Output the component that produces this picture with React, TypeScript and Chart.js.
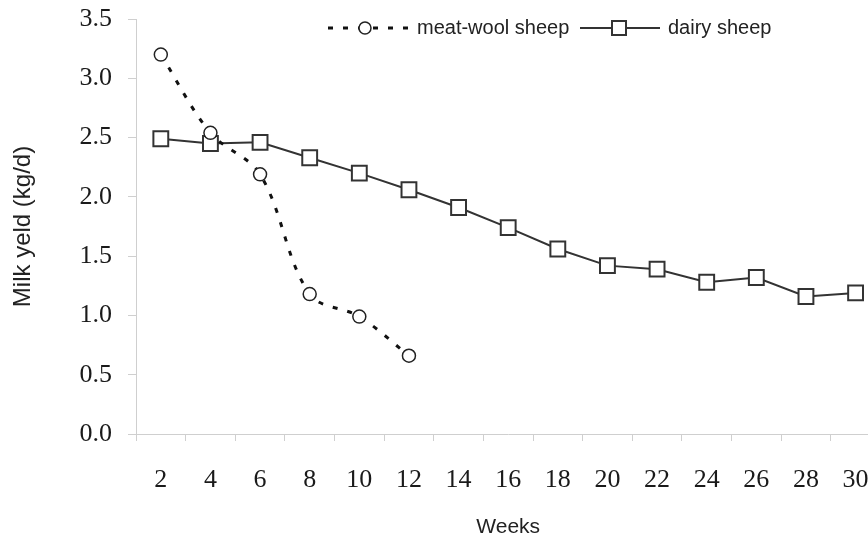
import React, { useEffect, useRef } from "react";
import { Chart, registerables } from "chart.js";

Chart.register(...registerables);

const weeks = ["2", "4", "6", "8", "10", "12", "14", "16", "18", "20", "22", "24", "26", "28", "30"];
const meatWool = [3.2, 2.54, 2.19, 1.18, 0.99, 0.66];
const dairy = [2.49, 2.45, 2.46, 2.33, 2.2, 2.06, 1.91, 1.74, 1.56, 1.42, 1.39, 1.28, 1.32, 1.16, 1.19];
const yTicks = [0, 0.5, 1.0, 1.5, 2.0, 2.5, 3.0, 3.5];

const SANS = "'Liberation Sans', Arial, sans-serif";
const SERIF = "'Liberation Serif', 'Times New Roman', serif";

const legendPlugin = {
  id: "customLegend",
  afterDraw(chart: any) {
    const ctx = chart.ctx;
    const ds = chart.data.datasets;
    const y = 28;
    ctx.save();
    // meat-wool sample
    ctx.strokeStyle = "#111";
    ctx.lineWidth = 3;
    ctx.setLineDash([5, 10]);
    ctx.beginPath();
    ctx.moveTo(328, y);
    ctx.lineTo(412, y);
    ctx.stroke();
    ctx.setLineDash([]);
    ctx.beginPath();
    ctx.arc(365, y, 6, 0, Math.PI * 2);
    ctx.fillStyle = "#fff";
    ctx.fill();
    ctx.lineWidth = 1.5;
    ctx.strokeStyle = "#222";
    ctx.stroke();
    // dairy sample
    ctx.strokeStyle = "#333";
    ctx.lineWidth = 2;
    ctx.beginPath();
    ctx.moveTo(580, y);
    ctx.lineTo(660, y);
    ctx.stroke();
    ctx.fillStyle = "#fff";
    ctx.fillRect(612, y - 7, 14, 14);
    ctx.strokeRect(612, y - 7, 14, 14);
    // text
    ctx.fillStyle = "#222";
    ctx.font = `20px ${SANS}`;
    ctx.textBaseline = "middle";
    ctx.textAlign = "left";
    ctx.fillText(ds[0].label, 417, y);
    ctx.fillText(ds[1].label, 668, y);
    ctx.restore();
  },
};

export default function App() {
  const ref = useRef<HTMLCanvasElement | null>(null);
  useEffect(() => {
    if (!ref.current) return;
    const chart = new Chart(ref.current, {
      type: "line",
      data: {
        labels: weeks,
        datasets: [
          {
            label: "meat-wool sheep",
            data: meatWool,
            borderColor: "#111",
            borderWidth: 3,
            borderDash: [5, 10],
            tension: 0.35,
            pointStyle: "circle",
            pointRadius: 6.5,
            pointBorderWidth: 1.5,
            pointBorderColor: "#222",
            pointBackgroundColor: "#fff",
            fill: false,
            order: 0,
          },
          {
            label: "dairy sheep",
            data: dairy,
            borderColor: "#333",
            borderWidth: 2,
            tension: 0,
            pointStyle: "rect",
            pointRadius: 10.5,
            pointBorderWidth: 2,
            pointBorderColor: "#333",
            pointBackgroundColor: "#fff",
            fill: false,
            order: 1,
          },
        ],
      },
      options: {
        responsive: false,
        animation: false,
        layout: { padding: { top: 19, right: 0, left: 0, bottom: 0 } },
        plugins: { legend: { display: false }, tooltip: { enabled: false } },
        scales: {
          x: {
            type: "category",
            offset: true,
            grid: { offset: true, drawOnChartArea: false, tickLength: 7, color: "#cfcfcf" },
            border: { color: "#cfcfcf" },
            ticks: { font: { family: SERIF, size: 26 }, color: "#1a1a1a", padding: 24, maxRotation: 0, autoSkip: false },
            title: { display: true, text: "Weeks", font: { family: SANS, size: 21 }, color: "#222", padding: { top: 0, bottom: 2 } },
            afterFit: (s: any) => { s.height = 108; },
          },
          y: {
            min: 0,
            max: 3.5,
            afterBuildTicks: (s: any) => { s.ticks = yTicks.map((v) => ({ value: v })); },
            grid: { drawOnChartArea: false, tickLength: 8, color: "#cfcfcf" },
            border: { color: "#cfcfcf" },
            ticks: { font: { family: SERIF, size: 26 }, color: "#1a1a1a", padding: 16, callback: (v: any) => Number(v).toFixed(1) },
            title: { display: true, text: "Milk yeld (kg/d)", font: { family: SANS, size: 24 }, color: "#222", padding: { top: 9, bottom: 0 } },
            afterFit: (s: any) => { s.width = 136; s.paddingTop = 0; s.paddingBottom = 0; },
          },
        },
      },
      plugins: [legendPlugin],
    });
    return () => chart.destroy();
  }, []);
  return (
    <div style={{ position: "absolute", left: 0, top: 0, width: 868, height: 542, overflow: "hidden", background: "#fff" }}>
      <canvas ref={ref} width={893} height={542} style={{ display: "block" }} />
    </div>
  );
}
